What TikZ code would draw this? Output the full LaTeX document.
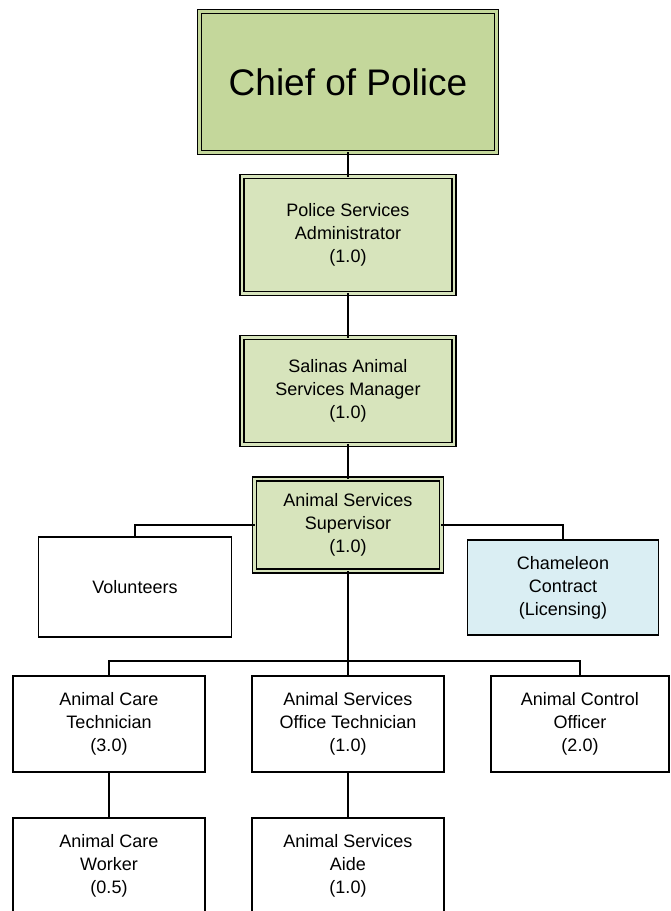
\documentclass[tikz,border=0pt]{standalone}
\usepackage{fontspec}
\setmainfont{Liberation Sans}
\definecolor{chiefgreen}{HTML}{C4D79B}
\definecolor{mgrgreen}{HTML}{D7E4BC}
\definecolor{contractblue}{HTML}{DAEEF3}
\begin{document}
\begin{tikzpicture}[x=1pt, y=-1pt, line cap=rect, line join=miter]
			\tikzset{staffbox/.style={draw, line width=1.5pt, fill=white, align=center, inner sep=0pt,
					minimum width=192pt, minimum height=96pt, font=\fontsize{18}{23}\selectfont},
				mgrbox/.style={staffbox, fill=mgrgreen, line width=1.4pt, double=mgrgreen, double distance=2.4pt},
				chiefbox/.style={mgrbox, fill=chiefgreen, double=chiefgreen, font=\fontsize{37}{40}\selectfont},
				link/.style={line width=1.6pt}}
			\useasboundingbox (0,0) rectangle (671,911);
			\node[chiefbox, minimum width=297pt, minimum height=141pt] (chief) at (348,82) {Chief of Police};
			\node[mgrbox, minimum width=212pt, minimum height=117pt] (admin) at (348,235) {Police Services\\Administrator\\(1.0)};
			\node[mgrbox, minimum width=212pt, minimum height=107pt] (manager) at (348,391) {Salinas Animal\\Services Manager\\(1.0)};
			\node[mgrbox, minimum width=187pt, minimum height=92pt] (super) at (348,525) {Animal Services\\Supervisor\\(1.0)};
			\node[staffbox, minimum width=193pt, minimum height=100pt] (volun) at (135,587) {Volunteers};
			\node[staffbox, fill=contractblue, minimum width=191pt, minimum height=95pt] (cham) at (563,587.5) {Chameleon\\Contract\\(Licensing)};
			\node[staffbox] (caretech) at (109,724) {Animal Care\\Technician\\(3.0)};
			\node[staffbox] (officetech) at (348,724) {Animal Services\\Office Technician\\(1.0)};
			\node[staffbox, minimum width=178pt] (control) at (580,724) {Animal Control\\Officer\\(2.0)};
			\node[staffbox] (worker) at (109,866) {Animal Care\\Worker\\(0.5)};
			\node[staffbox] (aide) at (348,866) {Animal Services\\Aide\\(1.0)};
			\coordinate (bus) at (348,661);
			\draw[link] (chief.south)--(admin.north);
			\draw[link] (admin.south)--(manager.north);
			\draw[link] (manager.south)--(super.north);
			\draw[link] (super.west) -| (volun.north);
			\draw[link] (super.east) -| (cham.north);
			\draw[link] (super.south)--(officetech.north);
			\draw[link] (caretech.north) |- (bus) -| (control.north);
			\draw[link] (caretech.south)--(worker.north);
			\draw[link] (officetech.south)--(aide.north);
	\end{tikzpicture}
\end{document}
